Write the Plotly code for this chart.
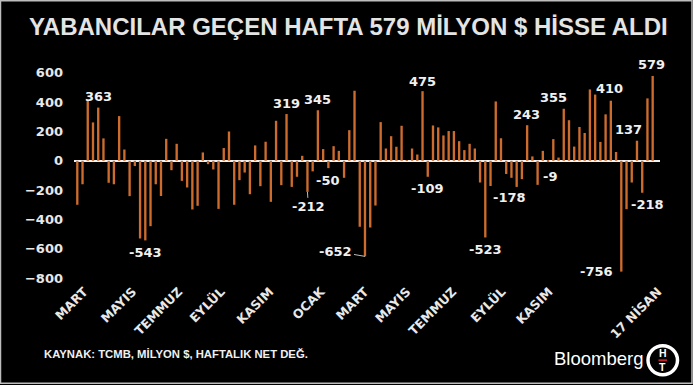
import plotly.graph_objects as go

# Weekly net foreign purchases (million $)
values = [
    -300, -160, 415, 262, 363, 153, -150, -160, 305, 77,
    -241, -36, -530, -543, -446, -160, -240, 150, -64, 116,
    -137, -182, -332, -307, 57, -23, -59, -328, 87, 200,
    -300, -132, -80, -228, 105, -173, 130, -280, 273, -166,
    319, -178, -109, 34, -212, -72, 345, 80, -50, 100,
    68, -116, 209, 478, -450, -652, -455, -305, 264, 84,
    168, 96, 239, 5, 84, 43, 475, -109, 241, 228,
    173, 203, 203, 134, 73, 116, 84, -148, -523, -172,
    405, 154, -90, -116, -178, -125, 243, 30, -164, 68,
    -9, 148, 22, 355, 277, 97, 231, 190, 487, 452,
    129, 317, 410, 60, -756, -330, -148, 137, -218, 426,
    579,
]
weeks = list(range(1, len(values) + 1))

tick_positions = [2.3, 11.6, 20.4, 28.5, 37.8, 47.6, 56, 64, 72.8, 82.2, 91.2, 112]
tick_labels = ["MART", "MAYIS", "TEMMUZ", "EYLÜL", "KASIM", "OCAK",
               "MART", "MAYIS", "TEMMUZ", "EYLÜL", "KASIM", "17 NİSAN"]

y_ticks = [600, 400, 200, 0, -200, -400, -600, -800]

# weeks whose values are labelled
labelled_weeks = [5, 14, 41, 45, 47, 49, 56, 67, 68, 79, 85, 87, 91, 94, 103, 105, 108, 109, 111]

title_text = "YABANCILAR GEÇEN HAFTA 579 MİLYON $ HİSSE ALDI"
source_text = "KAYNAK: TCMB, MİLYON $, HAFTALIK NET DEĞ."

W, H = 693, 385
ML, MR, MT, MB = 74, 33, 67, 103.5
PW = W - ML - MR
PH = H - MT - MB


def px(x):
    return (x - ML) / PW


def py(y):
    return (H - MB - y) / PH


fig = go.Figure()
fig.add_trace(go.Bar(
    x=weeks, y=values,
    marker=dict(color="#cd6c2d", line=dict(width=0)),
    hoverinfo="x+y",
))

num_font = dict(family="DejaVu Sans", size=13, color="#f0f0f0", weight="bold")

# label placements (style only): xshift, yshift
offsets = {
    5: (0, 11), 14: (0, -12), 41: (0, 11), 47: (0, 11), 49: (0, -12),
    67: (0, 10), 68: (0, -12), 79: (0, -12), 85: (-7, -11), 87: (-1, 11),
    91: (2, -14), 94: (-10, 11), 103: (-1, 12), 108: (-8, 11),
    109: (5, -12), 111: (-1, 11),
}
annotations = []
for w in labelled_weeks:
    v = values[w - 1]
    if w == 45:
        annotations.append(dict(x=w, y=v, text=str(v), showarrow=True, arrowhead=0,
                                arrowcolor="#bbbbbb", arrowwidth=1, ax=1, ay=15,
                                font=num_font))
    elif w == 56:
        annotations.append(dict(x=w, y=v, text=str(v), showarrow=True, arrowhead=0,
                                arrowcolor="#bbbbbb", arrowwidth=1, ax=-29, ay=-5,
                                font=num_font))
    elif w == 105:
        annotations.append(dict(x=w, y=v, text=str(v), showarrow=False,
                                xanchor="right", yanchor="middle", xshift=-6, yshift=0,
                                font=num_font))
    else:
        xs, ys = offsets[w]
        annotations.append(dict(x=w, y=v, text=str(v), showarrow=False,
                                xanchor="center", yanchor="middle", xshift=xs, yshift=ys,
                                font=num_font))

# title
annotations.append(dict(xref="paper", yref="paper", x=px(348), y=py(26), text=title_text,
                        showarrow=False, xanchor="center", yanchor="middle",
                        font=dict(family="Liberation Sans", size=24, color="#e4e4e4",
                                  weight="bold")))
# source
annotations.append(dict(xref="paper", yref="paper", x=px(42), y=py(355), text=source_text,
                        showarrow=False, xanchor="left", yanchor="middle",
                        font=dict(family="Liberation Sans", size=11.3, color="#f0f0f0",
                                  weight="bold")))
# Bloomberg
annotations.append(dict(xref="paper", yref="paper", x=px(598), y=py(359), text="Bloomberg",
                        showarrow=False, xanchor="center", yanchor="middle",
                        font=dict(family="Liberation Sans", size=18.5, color="#ffffff")))
annotations.append(dict(xref="paper", yref="paper", x=px(662.7), y=py(354), text="H",
                        showarrow=False, xanchor="center", yanchor="middle",
                        font=dict(family="Liberation Sans", size=10.5, color="#ffffff",
                                  weight="bold")))
annotations.append(dict(xref="paper", yref="paper", x=px(662.7), y=py(368), text="T",
                        showarrow=False, xanchor="center", yanchor="middle",
                        font=dict(family="Liberation Sans", size=10.5, color="#ffffff",
                                  weight="bold")))

shapes = [
    # outer frame
    dict(type="rect", xref="paper", yref="paper", x0=px(0.5), x1=px(692), y0=py(384), y1=py(0.5),
         line=dict(color="#bdbdbd", width=1.5), fillcolor="rgba(0,0,0,0)", layer="above"),
    # logo ring
    dict(type="circle", xref="paper", yref="paper", x0=px(648), x1=px(677.5), y0=py(375.5), y1=py(346.5),
         line=dict(color="#ffffff", width=3.5), fillcolor="#000000", layer="above"),
    dict(type="line", xref="paper", yref="paper", x0=px(658.5), x1=px(667), y0=py(361), y1=py(361),
         line=dict(color="#c0272d", width=2), layer="above"),
]

fig.update_layout(
    template="none",
    width=W, height=H,
    margin=dict(l=ML, r=MR, t=MT, b=MB, pad=0, autoexpand=False),
    paper_bgcolor="#000000", plot_bgcolor="#000000",
    showlegend=False,
    bargap=0.55,
    annotations=annotations,
    shapes=shapes,
    xaxis=dict(
        automargin=False,
        range=[0.37, 112.4],
        tickmode="array", tickvals=tick_positions, ticktext=tick_labels,
        tickangle=-45, showgrid=False, zeroline=False, showline=False, ticks="",
        tickfont=dict(family="DejaVu Sans", size=12.5, color="#e8e8e8", weight="bold"),
    ),
    yaxis=dict(
        automargin=False,
        range=[-820, 640],
        tickmode="array", tickvals=y_ticks,
        showgrid=False, zeroline=True, zerolinecolor="#f2f2f2", zerolinewidth=1.5,
        showline=False, ticks="", ticklabelstandoff=10,
        tickfont=dict(family="DejaVu Sans", size=13, color="#e8e8e8", weight="bold"),
    ),
)

fig.write_html("out.html", config={"displayModeBar": False},
               post_script="document.body.style.margin='0px';document.body.style.background='#000';")
